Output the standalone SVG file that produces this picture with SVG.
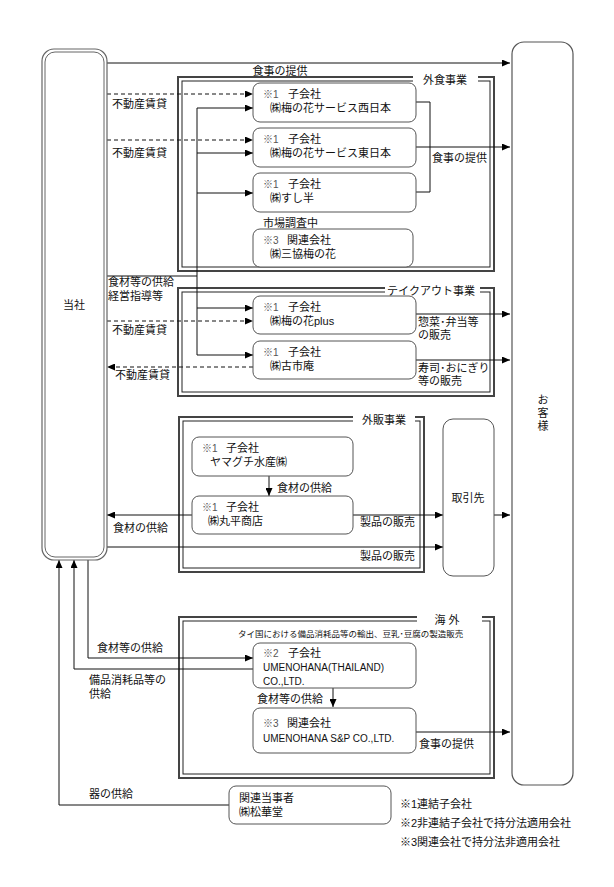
<svg xmlns="http://www.w3.org/2000/svg" width="614" height="887" viewBox="0 0 614 887">
<defs>
<marker id="ar" markerUnits="userSpaceOnUse" markerWidth="8" markerHeight="7" refX="8" refY="3.5" orient="auto">
<path d="M0,0 L8,3.5 L0,7 z" fill="#000"/>
</marker>
<style>
text{font-family:"Liberation Sans","Noto Sans CJK JP",sans-serif;font-size:11px;fill:#111}
.box{fill:#fff;stroke:#555;stroke-width:1}
.fo{fill:none;stroke:#444;stroke-width:2}
.fi{fill:none;stroke:#222;stroke-width:1}
.ln{fill:none;stroke:#111;stroke-width:1}
.dl{fill:none;stroke:#111;stroke-width:1;stroke-dasharray:4,3}
.gap{fill:#fff;stroke:none}
.sm{font-size:10px;fill:#555}
.en{font-size:10px}
.tiny{font-size:8.5px}
</style>
</defs>
<rect width="614" height="887" fill="#fff"/>

<g id="frame-gaishoku">
<rect class="fo" x="178" y="77" width="316" height="194"/>
<rect class="fi" x="182" y="81" width="308" height="186"/>
<rect class="gap" x="413" y="72" width="65" height="12"/>
<text x="445" y="84" text-anchor="middle">外食事業</text>
</g>
<g id="frame-takeout">
<rect class="fo" x="178" y="288" width="316" height="108"/>
<rect class="fi" x="182" y="292" width="308" height="100"/>
<rect class="gap" x="385" y="283" width="95" height="12"/>
<text x="431" y="295" text-anchor="middle">テイクアウト事業</text>
</g>
<g id="frame-gaihan">
<rect class="fo" x="179" y="417" width="245" height="155"/>
<rect class="fi" x="183" y="421" width="237" height="147"/>
<rect class="gap" x="353" y="412" width="62" height="12"/>
<text x="384" y="424" text-anchor="middle">外販事業</text>
</g>
<g id="frame-kaigai">
<rect class="fo" x="179" y="617" width="315" height="161"/>
<rect class="fi" x="183" y="621" width="307" height="153"/>
<rect class="gap" x="417" y="612" width="65" height="12"/>
<text x="447" y="624" text-anchor="middle">海 外</text>
<text class="tiny" x="238" y="637">タイ国における備品消耗品等の輸出、豆乳･豆腐の製造販売</text>
</g>

<g id="connectors">
<path class="ln" d="M107,63 H510" marker-end="url(#ar)"/>
<path class="dl" d="M107,94 H253" marker-end="url(#ar)"/>
<path class="dl" d="M107,140 H253" marker-end="url(#ar)"/>
<path class="ln" d="M197,108 V355"/>
<path class="ln" d="M107,276 H197"/>
<path class="ln" d="M197,108 H253" marker-end="url(#ar)"/>
<path class="ln" d="M197,153 H253" marker-end="url(#ar)"/>
<path class="ln" d="M197,193 H253" marker-end="url(#ar)"/>
<path class="ln" d="M197,308 H253" marker-end="url(#ar)"/>
<path class="ln" d="M197,355 H253" marker-end="url(#ar)"/>
<path class="ln" d="M416,102 H430 V192 H416"/>
<path class="ln" d="M416,147 H510" marker-end="url(#ar)"/>
<path class="dl" d="M107,321 H253" marker-end="url(#ar)"/>
<path class="dl" d="M253,367 H107" marker-end="url(#ar)"/>
<path class="ln" d="M416,314 H510" marker-end="url(#ar)"/>
<path class="ln" d="M416,360 H510" marker-end="url(#ar)"/>
<path class="ln" d="M269,476 V496" marker-end="url(#ar)"/>
<path class="ln" d="M192,515 H107" marker-end="url(#ar)"/>
<path class="ln" d="M353,515 H443" marker-end="url(#ar)"/>
<path class="ln" d="M107,547 H443" marker-end="url(#ar)"/>
<path class="ln" d="M494,515 H510" marker-end="url(#ar)"/>
<path class="ln" d="M88,560 V658 H253" marker-end="url(#ar)"/>
<path class="ln" d="M253,669 H74 V560" marker-end="url(#ar)"/>
<path class="ln" d="M229,805 H59 V560" marker-end="url(#ar)"/>
<path class="ln" d="M333,688 V707" marker-end="url(#ar)"/>
<path class="ln" d="M416,732 H510" marker-end="url(#ar)"/>

<text x="280" y="75" text-anchor="middle">食事の提供</text>
<text x="112" y="108">不動産賃貸</text>
<text x="112" y="157">不動産賃貸</text>
<text x="432" y="162">食事の提供</text>
<text x="108" y="286">食材等の供給</text>
<text x="108" y="300">経営指導等</text>
<text x="112" y="334">不動産賃貸</text>
<text x="115" y="379">不動産賃貸</text>
<text x="418" y="326">惣菜･弁当等</text>
<text x="418" y="339">の販売</text>
<text x="418" y="372">寿司･おにぎり</text>
<text x="418" y="385">等の販売</text>
<text x="277" y="492">食材の供給</text>
<text x="113" y="532">食材の供給</text>
<text x="360" y="526">製品の販売</text>
<text x="360" y="560">製品の販売</text>
<text x="97" y="652">食材等の供給</text>
<text x="89" y="684">備品消耗品等の</text>
<text x="89" y="698">供給</text>
<text x="257" y="703">食材等の供給</text>
<text x="419" y="748">食事の提供</text>
<text x="89" y="798">器の供給</text>
</g>

<g id="node-tousha">
<rect x="42" y="49" width="65" height="511" rx="12" fill="#fff" stroke="#666" stroke-width="1.2"/>
<rect x="45" y="52" width="59" height="505" rx="10" fill="none" stroke="#666" stroke-width="1"/>
<text x="74" y="309" text-anchor="middle">当社</text>
</g>
<g id="node-okyakusama">
<rect x="512" y="42" width="61" height="743" rx="12" fill="#fff" stroke="#555" stroke-width="1.2"/>
<text x="543" y="404" text-anchor="middle">お<tspan x="543" dy="13">客</tspan><tspan x="543" dy="13">様</tspan></text>
</g>
<g id="node-nishinihon">
<rect class="box" x="253" y="83" width="163" height="39" rx="7"/>
<text x="263" y="98"><tspan class="sm">※1</tspan><tspan x="288">子会社</tspan></text>
<text x="270" y="112">㈱梅の花サービス西日本</text>
</g>
<g id="node-higashinihon">
<rect class="box" x="253" y="128" width="163" height="39" rx="7"/>
<text x="263" y="143"><tspan class="sm">※1</tspan><tspan x="288">子会社</tspan></text>
<text x="270" y="157">㈱梅の花サービス東日本</text>
</g>
<g id="node-sushihan">
<rect class="box" x="253" y="173" width="163" height="39" rx="7"/>
<text x="263" y="188"><tspan class="sm">※1</tspan><tspan x="288">子会社</tspan></text>
<text x="270" y="202">㈱すし半</text>
</g>
<g id="node-sankyo">
<text x="263" y="227">市場調査中</text>
<rect class="box" x="253" y="229" width="160" height="38" rx="7"/>
<text x="263" y="244"><tspan class="sm">※3</tspan><tspan x="287">関連会社</tspan></text>
<text x="270" y="258">㈱三協梅の花</text>
</g>
<g id="node-plus">
<rect class="box" x="253" y="296" width="163" height="38" rx="7"/>
<text x="263" y="311"><tspan class="sm">※1</tspan><tspan x="288">子会社</tspan></text>
<text x="270" y="325">㈱梅の花plus</text>
</g>
<g id="node-koichian">
<rect class="box" x="253" y="341" width="163" height="38" rx="7"/>
<text x="263" y="356"><tspan class="sm">※1</tspan><tspan x="288">子会社</tspan></text>
<text x="270" y="370">㈱古市庵</text>
</g>
<g id="node-yamaguchi">
<rect class="box" x="192" y="437" width="161" height="39" rx="7"/>
<text x="202" y="452"><tspan class="sm">※1</tspan><tspan x="226">子会社</tspan></text>
<text x="210" y="466">ヤマグチ水産㈱</text>
</g>
<g id="node-maruhira">
<rect class="box" x="192" y="496" width="161" height="38" rx="7"/>
<text x="202" y="511"><tspan class="sm">※1</tspan><tspan x="226">子会社</tspan></text>
<text x="208" y="525">㈱丸平商店</text>
</g>
<g id="node-torihikisaki">
<rect class="box" x="443" y="419" width="51" height="157" rx="10"/>
<text x="468" y="502" text-anchor="middle">取引先</text>
</g>
<g id="node-thailand">
<rect class="box" x="253" y="643" width="163" height="45" rx="7"/>
<text x="263" y="657"><tspan class="sm">※2</tspan><tspan x="288">子会社</tspan></text>
<text class="en" x="263" y="671">UMENOHANA(THAILAND)</text>
<text class="en" x="263" y="685">CO.,LTD.</text>
</g>
<g id="node-snp">
<rect class="box" x="253" y="708" width="163" height="45" rx="7"/>
<text x="263" y="727"><tspan class="sm">※3</tspan><tspan x="287">関連会社</tspan></text>
<text class="en" x="263" y="742">UMENOHANA  S&amp;P CO.,LTD.</text>
</g>
<g id="node-shokado">
<rect class="box" x="229" y="786" width="162" height="38" rx="7"/>
<text x="239" y="802">関連当事者</text>
<text x="239" y="816">㈱松華堂</text>
</g>
<g id="legend">
<text x="400" y="808">※1連結子会社</text>
<text x="400" y="827">※2非連結子会社で持分法適用会社</text>
<text x="400" y="846">※3関連会社で持分法非適用会社</text>
</g>
</svg>
